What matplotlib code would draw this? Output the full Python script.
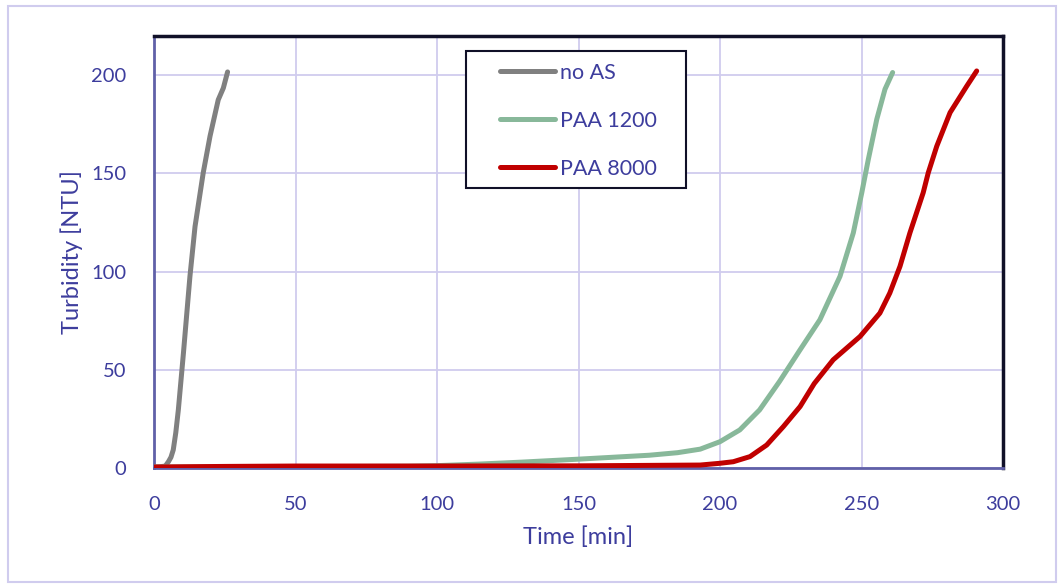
import matplotlib.pyplot as plt
from matplotlib.patches import Rectangle

# Data
noas_t = [0, 2, 4, 5.1, 6.0, 6.8, 7.7, 8.6, 10.4, 12.7, 14.5, 17.4, 19.8, 22.7, 24.5, 26.0]
noas_y = [0.5, 0.6, 1.0, 3.2, 5.5, 9.2, 18.0, 29.6, 58.5, 97.6, 123, 150.4, 169, 187.5, 193.5, 201.7]

paa1200_t = [0, 25, 50, 75, 90, 100, 115, 130, 150, 175, 185, 193, 200, 207, 214,
             221, 228.3, 235.3, 242.4, 247.1, 250.1, 252.4, 255.4, 258.3, 261.0]
paa1200_y = [0.5, 0.6, 0.7, 0.8, 0.9, 1.2, 2.0, 3.0, 4.5, 6.5, 7.8, 9.6, 13.4, 19.4, 29.6,
             44.0, 60.2, 75.5, 97.6, 119.7, 140.2, 157.1, 177.6, 192.9, 201.4]

paa8000_t = [0, 25, 50, 100, 150, 193, 200, 204.7, 210.6, 216.5, 222.4, 228.3, 233.3,
             240, 249.5, 256.5, 260, 263.6, 267.1, 271.8, 273.6, 276.6, 281.3, 287.2, 290.7]
paa8000_y = [0.5, 0.8, 1.0, 1.0, 1.1, 1.5, 2.4, 3.2, 5.8, 11.7, 21.1, 31.3, 43.0,
             55.1, 67.0, 78.9, 89.1, 102.7, 119.7, 140.2, 150.4, 163.9, 181.0, 194.5, 202.2]

labels = ["no AS", "PAA 1200", "PAA 8000"]
colors = ["#808080", "#88b89a", "#c00000"]

text_color = "#3d3d9d"
grid_color = "#d0ccee"
plt.rcParams['font.family'] = ['Lato', 'DejaVu Sans']

W, H = 1061, 585
x0, x1, y0, y1 = 154, 1003, 36, 468  # plot area in pixels
fig = plt.figure(figsize=(W / 100, H / 100), dpi=100)
ax = fig.add_axes([x0 / W, 1 - y1 / H, (x1 - x0) / W, (y1 - y0) / H])

# Outer chart border
fig.patches.append(Rectangle((8 / W, 3 / H), 1048 / W, 576 / H,
                             transform=fig.transFigure, fill=False,
                             edgecolor=grid_color, linewidth=1.5))

series = [(noas_t, noas_y), (paa1200_t, paa1200_y), (paa8000_t, paa8000_y)]
for (t, y), lab, col in zip(series, labels, colors):
    ax.plot(t, y, color=col, linewidth=3.6, label=lab, solid_capstyle='round',
            solid_joinstyle='round', zorder=3)

ax.set_xlim(0, 300)
ax.set_ylim(0, 220)
ax.set_xticks([0, 50, 100, 150, 200, 250, 300])
ax.set_yticks([0, 50, 100, 150, 200])
ax.grid(True, color=grid_color, linewidth=1.3)
ax.set_axisbelow(True)

ax.tick_params(length=0, labelsize=14.5, labelcolor=text_color, pad=20)
ax.set_xlabel("Time [min]", fontsize=17, color=text_color, labelpad=10)
ax.set_ylabel("Turbidity [NTU]", fontsize=17, color=text_color, labelpad=6)

ax.spines['left'].set_color("#6060a8")
ax.spines['bottom'].set_color("#6060a8")
ax.spines['left'].set_linewidth(2)
ax.spines['bottom'].set_linewidth(2)
ax.spines['top'].set_color("#101028")
ax.spines['right'].set_color("#101028")
ax.spines['top'].set_linewidth(2.5)
ax.spines['right'].set_linewidth(2.5)


def to_ax(px, py):
    return (px - x0) / (x1 - x0), 1 - (py - y0) / (y1 - y0)


# legend frame drawn separately so its padding matches the reference
lx, ly = to_ax(466, 188)
rx, ry = to_ax(686, 51)
ax.add_patch(Rectangle((lx, ly), rx - lx, ry - ly, transform=ax.transAxes,
                       facecolor="white", edgecolor="#101028", linewidth=1.5, zorder=4))

leg = ax.legend(loc='upper left', bbox_to_anchor=to_ax(500, 63), frameon=False,
                fontsize=15.5, handlelength=2.55, handletextpad=0.25,
                labelspacing=1.3, borderpad=0, borderaxespad=0)
leg.set_zorder(5)
for txt in leg.get_texts():
    txt.set_color(text_color)

fig.savefig("out.png", dpi=100)
